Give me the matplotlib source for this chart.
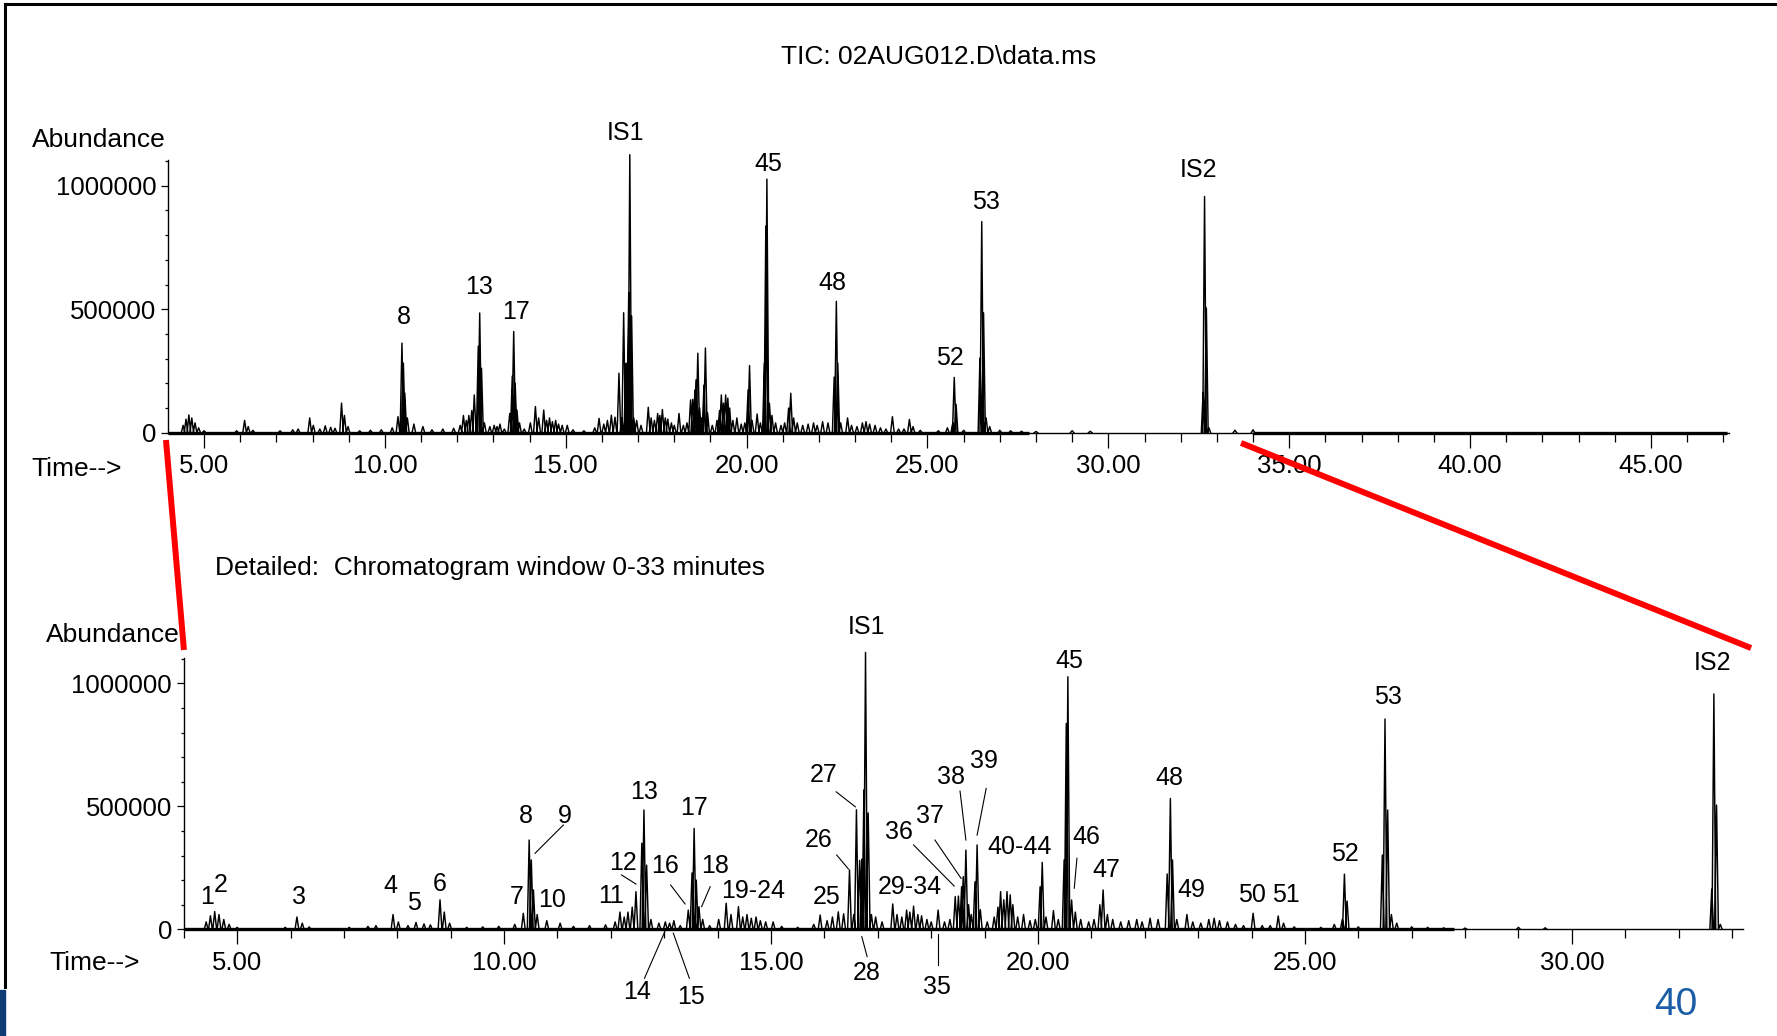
import numpy as np
import matplotlib.pyplot as plt
from matplotlib.lines import Line2D
from matplotlib.patches import Rectangle
from matplotlib.ticker import MultipleLocator

plt.rcParams['font.family'] = ['Liberation Sans', 'DejaVu Sans']

# Пікова таблиця TIC: час утримання (хв) та висота піку
peak_rt = [
    4.42, 4.50, 4.58, 4.66, 4.75, 4.85, 5.00, 5.90, 6.12, 6.22, 6.35, 7.10, 7.45, 7.60,
    7.92, 8.02, 8.20, 8.35, 8.50, 8.62, 8.80, 8.88, 8.98, 9.30, 9.60, 9.90, 10.20, 10.36,
    10.47, 10.51, 10.55, 10.62, 10.80, 11.05, 11.30, 11.60, 11.90, 12.08, 12.17, 12.25,
    12.32, 12.40, 12.47, 12.58, 12.62, 12.67, 12.75, 12.90, 13.02, 13.10, 13.18, 13.30,
    13.45, 13.52, 13.56, 13.60, 13.65, 13.72, 13.85, 14.02, 14.16, 14.25, 14.39, 14.47,
    14.55, 14.63, 14.72, 14.80, 14.90, 15.04, 15.20, 15.50, 15.80, 15.92, 16.05, 16.15,
    16.26, 16.36, 16.47, 16.55, 16.60, 16.66, 16.70, 16.74, 16.77, 16.82, 16.88, 16.96,
    17.08, 17.28, 17.36, 17.45, 17.54, 17.60, 17.67, 17.75, 17.82, 17.92, 18.00, 18.13,
    18.25, 18.35, 18.45, 18.51, 18.57, 18.60, 18.65, 18.70, 18.75, 18.82, 18.86, 18.92,
    19.05, 19.18, 19.25, 19.30, 19.36, 19.42, 19.48, 19.53, 19.62, 19.73, 19.85, 19.95,
    20.04, 20.08, 20.15, 20.29, 20.38, 20.49, 20.53, 20.56, 20.63, 20.70, 20.80, 20.95,
    21.05, 21.16, 21.22, 21.30, 21.40, 21.55, 21.70, 21.85, 21.95, 22.10, 22.25, 22.42,
    22.48, 22.52, 22.60, 22.79, 22.90, 23.05, 23.20, 23.30, 23.40, 23.55, 23.70, 23.85,
    24.03, 24.20, 24.35, 24.50, 24.60, 24.80, 25.30, 25.55, 25.70, 25.74, 25.79, 26.00,
    26.45, 26.50, 26.55, 26.62, 26.72, 27.00, 27.30, 27.60, 28.00, 29.00, 29.50, 32.62,
    32.66, 32.71, 32.78, 33.50, 34.00,
]
peak_abund = [
    30e3, 55e3, 72e3, 60e3, 40e3, 20e3, 8e3, 8e3, 50e3, 25e3, 10e3, 8e3, 12e3, 15e3,
    60e3, 30e3, 15e3, 28e3, 22e3, 18e3, 120e3, 70e3, 25e3, 8e3, 10e3, 12e3, 20e3, 65e3,
    363e3, 282e3, 160e3, 60e3, 35e3, 25e3, 12e3, 15e3, 18e3, 30e3, 70e3, 50e3,
    70e3, 90e3, 153e3, 350e3, 485e3, 261e3, 40e3, 25e3, 30e3, 25e3, 35e3, 15e3,
    78e3, 229e3, 410e3, 200e3, 92e3, 40e3, 15e3, 40e3, 106e3, 60e3, 92e3, 50e3,
    60e3, 45e3, 50e3, 35e3, 30e3, 30e3, 12e3, 8e3, 20e3, 58e3, 35e3, 50e3,
    71e3, 63e3, 241e3, 60e3, 486e3, 280e3, 285e3, 567e3, 1126e3, 473e3, 60e3, 50e3,
    30e3, 103e3, 60e3, 50e3, 78e3, 70e3, 94e3, 60e3, 55e3, 40e3, 30e3, 78e3,
    30e3, 40e3, 133e3, 135e3, 173e3, 214e3, 322e3, 100e3, 60e3, 193e3, 343e3, 80e3,
    30e3, 50e3, 90e3, 153e3, 120e3, 153e3, 140e3, 100e3, 50e3, 60e3, 35e3, 40e3,
    173e3, 272e3, 50e3, 76e3, 40e3, 282e3, 837e3, 1027e3, 119e3, 70e3, 40e3, 30e3,
    40e3, 100e3, 160e3, 60e3, 40e3, 30e3, 35e3, 40e3, 30e3, 45e3, 40e3, 225e3,
    532e3, 282e3, 40e3, 60e3, 30e3, 25e3, 40e3, 45e3, 35e3, 30e3, 20e3, 15e3,
    65e3, 15e3, 15e3, 54e3, 25e3, 10e3, 8e3, 20e3, 40e3, 224e3, 115e3, 10e3,
    302e3, 855e3, 485e3, 60e3, 25e3, 10e3, 8e3, 6e3, 5e3, 8e3, 6e3, 163e3,
    957e3, 505e3, 20e3, 10e3, 12e3,
]

# ділянки, де шумна базова лінія зливається в товсту смугу
baseline_spans = [(4.0, 27.8), (34.0, 47.1)]

top_ticks = [5, 10, 15, 20, 25, 30, 35, 40, 45]
bottom_ticks = [5, 10, 15, 20, 25, 30]
abund_ticks = [0, 500000, 1000000]

# підписи піків: (текст, час, висота підпису)
top_labels = [
    ("8", 10.52, 470e3), ("13", 12.61, 591e3), ("17", 13.61, 490e3),
    ("IS1", 16.66, 1212e3), ("45", 20.59, 1088e3), ("48", 22.37, 607e3),
    ("52", 25.63, 301e3), ("53", 26.61, 935e3), ("IS2", 32.49, 1064e3),
]
bottom_labels = [
    ("1", 4.43, 132e3), ("2", 4.70, 180e3), ("3", 6.15, 130e3), ("4", 7.87, 178e3),
    ("5", 8.32, 108e3), ("6", 8.80, 185e3), ("7", 10.24, 133e3), ("8", 10.41, 461e3),
    ("9", 11.14, 461e3), ("10", 10.89, 119e3), ("11", 12.00, 135e3), ("12", 12.22, 268e3),
    ("13", 12.63, 559e3), ("14", 12.50, -254e3), ("15", 13.50, -276e3), ("16", 13.01, 257e3),
    ("17", 13.55, 492e3), ("18", 13.95, 257e3), ("19-24", 14.66, 157e3), ("25", 16.04, 130e3),
    ("26", 15.89, 363e3), ("27", 15.98, 627e3), ("IS1", 16.78, 1228e3), ("28", 16.79, -179e3),
    ("29-34", 17.60, 173e3), ("35", 18.10, -233e3), ("36", 17.40, 397e3), ("37", 17.98, 461e3),
    ("38", 18.37, 620e3), ("39", 18.98, 684e3), ("40-44", 19.65, 333e3), ("45", 20.58, 1092e3),
    ("46", 20.90, 374e3), ("47", 21.28, 241e3), ("48", 22.47, 614e3), ("49", 22.88, 160e3),
    ("50", 24.01, 139e3), ("51", 24.65, 139e3), ("52", 25.75, 308e3), ("53", 26.55, 943e3),
    ("IS2", 32.63, 1084e3),
]
# виносні лінії від підпису до піку
leaders = [
    [(11.11, 424e3), (10.58, 309e3)],
    [(12.20, 221e3), (12.47, 184e3)],
    [(13.12, 180e3), (13.39, 103e3)],
    [(13.86, 173e3), (13.70, 92e3)],
    [(12.63, -199e3), (13.01, -10e3)],
    [(13.47, -199e3), (13.17, -16e3)],
    [(16.22, 559e3), (16.58, 498e3)],
    [(16.23, 302e3), (16.45, 245e3)],
    [(16.70, -30e3), (16.80, -111e3)],
    [(18.13, -19e3), (18.13, -145e3)],
    [(17.67, 343e3), (18.43, 176e3)],
    [(18.07, 363e3), (18.56, 207e3)],
    [(18.54, 562e3), (18.65, 363e3)],
    [(19.03, 573e3), (18.86, 383e3)],
    [(20.73, 289e3), (20.68, 167e3)],
]


def draw_trace(ax, t_min, t_max, hw):
    xs, ys = [], []
    for t, a in zip(peak_rt, peak_abund):
        if t - hw < t_min or t + hw > t_max:
            continue
        xs += [t - hw, t, t + hw, np.nan]
        ys += [0, a, 0, np.nan]
    ax.plot(xs, ys, color='black', lw=1.05, clip_on=False)
    for a, b in baseline_spans:
        a, b = max(a, t_min), min(b, t_max)
        if b > a:
            ax.plot([a, b], [0, 0], color='black', lw=2.4, solid_capstyle='butt', clip_on=False)


def style_axes(ax, xlim, ticks):
    ax.set_xlim(*xlim)
    ax.set_ylim(0, 1.105e6)
    ax.spines['top'].set_visible(False)
    ax.spines['right'].set_visible(False)
    ax.spines['left'].set_linewidth(1.0)
    ax.spines['bottom'].set_linewidth(1.0)
    ax.set_xticks(ticks)
    ax.set_xticklabels([f"{v:.2f}" for v in ticks])
    ax.xaxis.set_minor_locator(MultipleLocator(1))
    ax.set_yticks(abund_ticks)
    ax.set_yticklabels([str(v) for v in abund_ticks])
    ax.yaxis.set_minor_locator(MultipleLocator(100000))
    ax.tick_params(axis='x', which='major', length=11, width=0.9, pad=4.5, labelsize=18.5)
    ax.tick_params(axis='x', which='minor', length=6.5, width=0.9)
    ax.tick_params(axis='y', which='major', length=5, width=0.9, pad=3.5, labelsize=18.5)
    ax.tick_params(axis='y', which='minor', length=2.5, width=0.9)


fig = plt.figure(figsize=(17.77, 10.36), dpi=100)

# Загальна хроматограма
ax1 = fig.add_axes([0.0947, 0.5823, 0.8783, 0.2634])
style_axes(ax1, (4.01, 47.16), top_ticks)
draw_trace(ax1, 4.01, 47.16, 0.05)
for txt, t, a in top_labels:
    ax1.text(t, a, txt, ha='center', va='center', fontsize=18)

# Детальне вікно 0-33 хв
ax2 = fig.add_axes([0.1034, 0.1030, 0.8773, 0.2623])
style_axes(ax2, (4.0, 33.2), bottom_ticks)
draw_trace(ax2, 4.0, 33.2, 0.035)
for txt, t, a in bottom_labels:
    ax2.text(t, a, txt, ha='center', va='center', fontsize=18)
for seg in leaders:
    lx, ly = zip(*seg)
    ax2.plot(lx, ly, color='black', lw=0.8, clip_on=False)

fig.text(0.528, 0.9382, "TIC: 02AUG012.D\\data.ms", ha='center', va='baseline', fontsize=19)
fig.text(0.0178, 0.8581, "Abundance", ha='left', va='baseline', fontsize=19)
fig.text(0.0178, 0.5405, "Time-->", ha='left', va='baseline', fontsize=19)
fig.text(0.1212, 0.445, "Detailed:  Chromatogram window 0-33 minutes", ha='left', va='baseline', fontsize=19)
fig.text(0.0259, 0.3803, "Abundance", ha='left', va='baseline', fontsize=19)
fig.text(0.0277, 0.0637, "Time-->", ha='left', va='baseline', fontsize=19)
fig.text(0.9431, 0.0203, "40", ha='center', va='baseline', fontsize=28, color='#1a5da6')

# рамка слайда та лінії збільшення
fig.add_artist(Line2D([0.0028, 1.0], [0.9961, 0.9961], transform=fig.transFigure, color='black', lw=2.2))
fig.add_artist(Line2D([0.0028, 0.0028], [0.9961, 0.0473], transform=fig.transFigure, color='black', lw=2.2))
fig.add_artist(Rectangle((0, 0), 0.0028, 0.044, transform=fig.transFigure, color='#0d3b73'))
fig.add_artist(Line2D([0.0934, 0.1035], [0.5753, 0.3726], transform=fig.transFigure,
                      color='#ff0000', lw=4.3, solid_capstyle='butt', zorder=10))
fig.add_artist(Line2D([0.6984, 0.9854], [0.5724, 0.3745], transform=fig.transFigure,
                      color='#ff0000', lw=4.3, solid_capstyle='butt', zorder=10))

fig.savefig('out.png', dpi=100, facecolor='white')
